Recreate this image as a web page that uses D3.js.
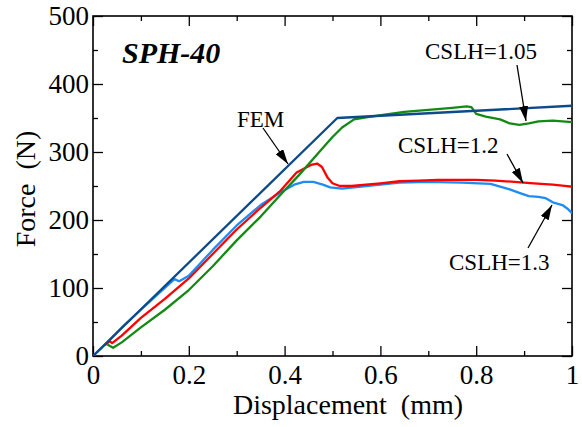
<!doctype html>
<html>
<head>
<script src="https://d3js.org/d3.v7.min.js"></script>
<style>
  body { margin: 0; background: #fff; }
  svg text { font-family: "Liberation Serif", "Times New Roman", serif; fill: #000; }
  .axis path { display: none; }
  .axis line { stroke: #000; stroke-width: 1.3; }
  .axis text { font-size: 27px; }
</style>
</head>
<body>
<script>
// displacement (mm) / force (N)
let femX = [0, 0.51, 1.0];
let femY = [0, 350, 368];

let g105X = [0.03, 0.042, 0.06, 0.1, 0.15, 0.2, 0.25, 0.3, 0.35, 0.39, 0.43, 0.47, 0.5, 0.52, 0.545, 0.58, 0.62, 0.65, 0.7, 0.75, 0.78, 0.79, 0.8, 0.82, 0.85, 0.87, 0.89, 0.91, 0.93, 0.96, 1.0];
let g105Y = [17, 12, 20, 42, 68, 97, 132, 170, 205, 236, 266, 298, 322, 336, 348, 352, 356, 359, 362, 365, 367, 366, 356, 352, 348, 342, 340, 342, 345, 346, 344];

let g12X = [0.025, 0.035, 0.04, 0.06, 0.1, 0.15, 0.2, 0.25, 0.3, 0.35, 0.39, 0.425, 0.455, 0.468, 0.478, 0.49, 0.5, 0.515, 0.54, 0.57, 0.6, 0.64, 0.68, 0.72, 0.76, 0.8, 0.84, 0.88, 0.92, 0.96, 1.0];
let g12Y = [16, 22, 19, 30, 56, 84, 114, 150, 186, 218, 242, 270, 281, 283, 278, 262, 254, 250, 250, 252, 254, 257, 258, 259, 259, 259, 258, 256, 254, 252, 249];

let g13X = [0, 0.03, 0.06, 0.1, 0.14, 0.17, 0.18, 0.2, 0.25, 0.3, 0.35, 0.39, 0.42, 0.44, 0.46, 0.48, 0.495, 0.52, 0.56, 0.6, 0.64, 0.7, 0.77, 0.83, 0.85, 0.87, 0.89, 0.91, 0.93, 0.945, 0.96, 0.98, 0.99, 1.0];
let g13Y = [0, 20, 42, 68, 94, 113, 110, 118, 156, 192, 222, 240, 252, 256, 256, 252, 248, 246, 249, 252, 255, 256, 255, 253, 249, 245, 240, 235, 234, 232, 226, 222, 217, 210];

let xTicks = [0, 0.2, 0.4, 0.6, 0.8, 1];
let xMinor = [0.1, 0.3, 0.5, 0.7, 0.9];
let yTicks = [0, 100, 200, 300, 400, 500];
let yMinor = [50, 150, 250, 350, 450];

let width = 582, height = 427;
let plotL = 93, plotR = 572, plotT = 16, plotB = 356;

let x = d3.scaleLinear().domain([0, 1]).range([plotL, plotR]);
let y = d3.scaleLinear().domain([0, 500]).range([plotB, plotT]);

let svg = d3.select("body").append("svg")
    .attr("width", width)
    .attr("height", height);

let defs = svg.append("defs");
defs.append("clipPath").attr("id", "plot")
    .append("rect")
    .attr("x", plotL).attr("y", plotT)
    .attr("width", plotR - plotL).attr("height", plotB - plotT);
defs.append("marker")
    .attr("id", "head")
    .attr("markerUnits", "userSpaceOnUse")
    .attr("viewBox", "0 0 15 9")
    .attr("refX", 15).attr("refY", 4.5)
    .attr("markerWidth", 15).attr("markerHeight", 9)
    .attr("orient", "auto")
    .append("path")
    .attr("d", "M0,0 L15,4.5 L0,9 Z")
    .attr("fill", "#000");

// ticks, inward on all four sides
svg.append("g").attr("class", "axis")
    .attr("transform", "translate(0," + plotB + ")")
    .call(d3.axisBottom(x).tickValues(xTicks).tickSize(-10).tickSizeOuter(0).tickPadding(9).tickFormat(String));
svg.append("g").attr("class", "axis")
    .attr("transform", "translate(0," + plotB + ")")
    .call(d3.axisBottom(x).tickValues(xMinor).tickSize(-5).tickSizeOuter(0).tickFormat(""));
svg.append("g").attr("class", "axis")
    .attr("transform", "translate(0," + plotT + ")")
    .call(d3.axisTop(x).tickValues(xTicks).tickSize(-10).tickSizeOuter(0).tickFormat(""));
svg.append("g").attr("class", "axis")
    .attr("transform", "translate(0," + plotT + ")")
    .call(d3.axisTop(x).tickValues(xMinor).tickSize(-5).tickSizeOuter(0).tickFormat(""));
svg.append("g").attr("class", "axis")
    .attr("transform", "translate(" + plotL + ",0)")
    .call(d3.axisLeft(y).tickValues(yTicks).tickSize(-10).tickSizeOuter(0).tickPadding(4).tickFormat(String));
svg.append("g").attr("class", "axis")
    .attr("transform", "translate(" + plotL + ",0)")
    .call(d3.axisLeft(y).tickValues(yMinor).tickSize(-5).tickSizeOuter(0).tickFormat(""));
svg.append("g").attr("class", "axis")
    .attr("transform", "translate(" + plotR + ",0)")
    .call(d3.axisRight(y).tickValues(yTicks).tickSize(-10).tickSizeOuter(0).tickFormat(""));
svg.append("g").attr("class", "axis")
    .attr("transform", "translate(" + plotR + ",0)")
    .call(d3.axisRight(y).tickValues(yMinor).tickSize(-5).tickSizeOuter(0).tickFormat(""));

svg.append("rect")
    .attr("x", plotL).attr("y", plotT)
    .attr("width", plotR - plotL).attr("height", plotB - plotT)
    .attr("fill", "none").attr("stroke", "#000").attr("stroke-width", 1.6);

// curves
let line = d3.line().x(d => x(d[0])).y(d => y(d[1]));
let series = [
    { xs: g13X, ys: g13Y, color: "#1e8cf5" },
    { xs: g12X, ys: g12Y, color: "#ff0000" },
    { xs: g105X, ys: g105Y, color: "#138a13" },
    { xs: femX, ys: femY, color: "#0c4a8a" }
];
svg.append("g").attr("clip-path", "url(#plot)")
    .selectAll("path")
    .data(series)
    .enter().append("path")
    .attr("d", s => line(d3.zip(s.xs, s.ys)))
    .attr("fill", "none")
    .attr("stroke", s => s.color)
    .attr("stroke-width", 2.3)
    .attr("stroke-linejoin", "round");

// annotations
svg.append("text")
    .attr("x", 122).attr("y", 63)
    .attr("font-size", 30).attr("font-weight", "bold").attr("font-style", "italic")
    .text("SPH-40");

let notes = [
    { label: "FEM", tx: 237, ty: 127, from: [263, 128], to: [288, 164] },
    { label: "CSLH=1.05", tx: 425, ty: 59, from: [517, 65], to: [526, 121] },
    { label: "CSLH=1.2", tx: 398, ty: 153, from: [507, 154], to: [523, 183] },
    { label: "CSLH=1.3", tx: 449, ty: 270, from: [528, 248], to: [552, 205] }
];
svg.selectAll("text.note")
    .data(notes)
    .enter().append("text")
    .attr("class", "note")
    .attr("x", d => d.tx).attr("y", d => d.ty)
    .attr("font-size", 23)
    .text(d => d.label);
svg.selectAll("line.arrow")
    .data(notes)
    .enter().append("line")
    .attr("class", "arrow")
    .attr("x1", d => d.from[0]).attr("y1", d => d.from[1])
    .attr("x2", d => d.to[0]).attr("y2", d => d.to[1])
    .attr("stroke", "#000").attr("stroke-width", 1.3)
    .attr("marker-end", "url(#head)");

// axis titles
svg.append("text")
    .attr("x", 348).attr("y", 414)
    .attr("text-anchor", "middle")
    .attr("font-size", 28)
    .style("white-space", "pre")
    .text("Displacement  (mm)");
svg.append("text")
    .attr("transform", "translate(35,189) rotate(-90)")
    .attr("text-anchor", "middle")
    .attr("font-size", 28)
    .style("white-space", "pre")
    .text("Force  (N)");
</script>
</body>
</html>
